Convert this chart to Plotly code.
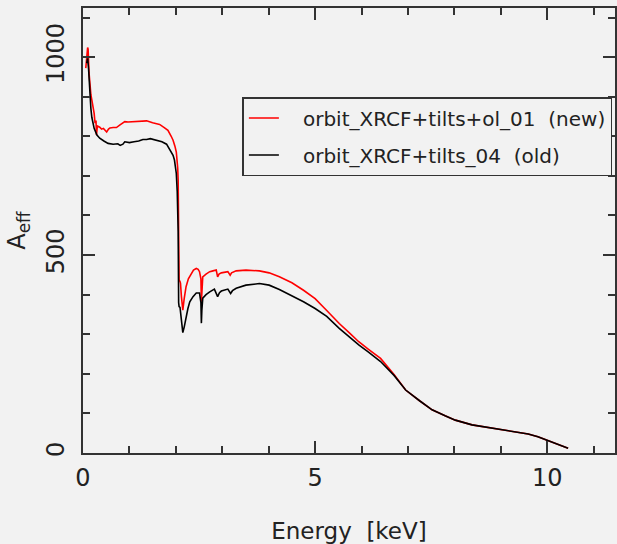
import plotly.graph_objects as go

# Energy [keV] and effective area, new calibration (red)
new_energy = [0.06, 0.08, 0.10, 0.11, 0.13, 0.15, 0.17, 0.19, 0.22, 0.24, 0.26, 0.28, 0.29, 0.31,
              0.36, 0.40, 0.44, 0.48, 0.51, 0.55, 0.58, 0.65, 0.72, 0.79, 0.85, 0.90, 0.97, 1.07,
              1.20, 1.37, 1.50, 1.65, 1.75, 1.83, 1.90, 1.94, 1.98, 2.01, 2.04, 2.05, 2.06, 2.07,
              2.09, 2.10, 2.12, 2.15, 2.18, 2.22, 2.27, 2.33, 2.38, 2.44, 2.48, 2.51, 2.54, 2.55,
              2.56, 2.58, 2.65, 2.73, 2.80, 2.87, 2.90, 2.93, 2.98, 3.05, 3.12, 3.17, 3.20, 3.30,
              3.51, 3.80, 4.01, 4.23, 4.50, 4.75, 5.00, 5.25, 5.52, 5.75, 5.94, 6.15, 6.41, 6.70,
              6.95, 7.25, 7.52, 7.80, 8.02, 8.38, 8.75, 9.09, 9.35, 9.59, 9.80, 9.95, 10.05, 10.25,
              10.45]
new_aeff = [972, 1000, 1024, 1020, 960, 925, 905, 892, 875, 858, 833, 840, 803, 826,
            823, 818, 820, 815, 811, 818, 821, 822, 822, 828, 832, 837, 836, 837,
            838, 839, 834, 830, 822, 815, 800, 790, 775, 760, 720, 689, 560, 437,
            433, 429, 395, 361, 390, 420, 440, 454, 462, 466, 464, 458, 440, 382,
            420, 445, 452, 458, 460, 462, 445, 452, 455, 457, 458, 449, 455, 460,
            462, 460, 455, 445, 430, 411, 390, 360, 327, 302, 281, 262, 239, 198,
            159, 132, 109, 94, 83, 71, 64, 58, 53, 48, 41, 34, 30, 21,
            12]

# old calibration (black)
old_energy = [0.08, 0.10, 0.12, 0.15, 0.17, 0.19, 0.24, 0.30, 0.36, 0.45, 0.54, 0.65, 0.75, 0.80,
              0.83, 0.86, 0.90, 1.00, 1.10, 1.20, 1.29, 1.37, 1.45, 1.58, 1.70, 1.80, 1.87, 1.94,
              1.97, 2.01, 2.03, 2.05, 2.06, 2.07, 2.09, 2.11, 2.15, 2.18, 2.22, 2.26, 2.30, 2.37,
              2.44, 2.51, 2.54, 2.55, 2.56, 2.58, 2.65, 2.73, 2.83, 2.90, 2.94, 2.98, 3.05, 3.12,
              3.18, 3.22, 3.30, 3.51, 3.80, 4.01, 4.23, 4.50, 4.75, 5.00, 5.25, 5.52, 5.75, 5.94,
              6.15, 6.41, 6.70, 6.95, 7.25, 7.52, 7.80, 8.02, 8.38, 8.75, 9.09, 9.35, 9.59, 9.80,
              9.95, 10.05, 10.25, 10.45]
old_aeff = [985, 997, 970, 899, 870, 848, 820, 803, 795, 788, 782, 780, 781, 777,
            778, 780, 786, 784, 786, 788, 792, 792, 794, 790, 786, 780, 766, 752,
            740, 706, 660, 560, 380, 370, 368, 340, 304, 318, 344, 365, 382, 395,
            404, 404, 380, 328, 360, 391, 400, 407, 414, 395, 405, 409, 411, 414,
            403, 410, 416, 424, 428, 424, 413, 398, 382, 365, 345, 315, 292, 273,
            255, 231, 196, 159, 132, 109, 94, 83, 71, 64, 58, 53, 48, 41,
            34, 30, 21, 12]

new_name = "\u00a0\u00a0\u00a0orbit_XRCF+tilts+ol_01\u00a0\u00a0(new)"
old_name = "\u00a0\u00a0\u00a0orbit_XRCF+tilts_04\u00a0\u00a0(old)"

FONT = "DejaVu Sans"
BG = "#f2f2f2"

fig = go.Figure()
fig.add_trace(go.Scatter(x=new_energy, y=new_aeff, mode="lines", name=new_name,
                         line=dict(color="#ff0000", width=1.6), legendgroup="a"))
fig.add_trace(go.Scatter(x=old_energy, y=old_aeff, mode="lines", name=old_name,
                         line=dict(color="#000000", width=1.6), legendgroup="b"))

axis_common = dict(
    showgrid=False, zeroline=False, showline=True, linecolor="#333333", linewidth=2,
    mirror="allticks", ticks="inside", ticklen=12, tickwidth=1.5, tickcolor="#333333",
    tickfont=dict(family=FONT, size=24, color="#222222"),
)

fig.update_layout(
    width=617, height=544,
    margin=dict(l=83, r=0, t=8, b=91),
    paper_bgcolor=BG, plot_bgcolor=BG,
    font=dict(family=FONT, color="#222222"),
    xaxis=dict(range=[0, 11.46], tick0=0, dtick=5, ticklabelstandoff=2,
               minor=dict(dtick=1, ticks="inside", ticklen=7, tickwidth=1.5, tickcolor="#333333"),
               title=dict(text="Energy\u00a0\u00a0[keV]", font=dict(family=FONT, size=23), standoff=32),
               **axis_common),
    yaxis=dict(range=[0, 1124], tick0=0, dtick=500, tickangle=-90, ticklabelstandoff=7,
               minor=dict(dtick=100, ticks="inside", ticklen=7, tickwidth=1.5, tickcolor="#333333"),
               title=dict(text="A<sub>eff</sub>", font=dict(family=FONT, size=24), standoff=10),
               **axis_common),
    showlegend=True,
    legend=dict(x=0.2996, y=0.80, xanchor="left", yanchor="top",
                bgcolor=BG, bordercolor="#333333", borderwidth=1.5,
                font=dict(family=FONT, size=20),
                traceorder="grouped", tracegroupgap=8, itemwidth=30),
)

fig.write_html("out.html")
